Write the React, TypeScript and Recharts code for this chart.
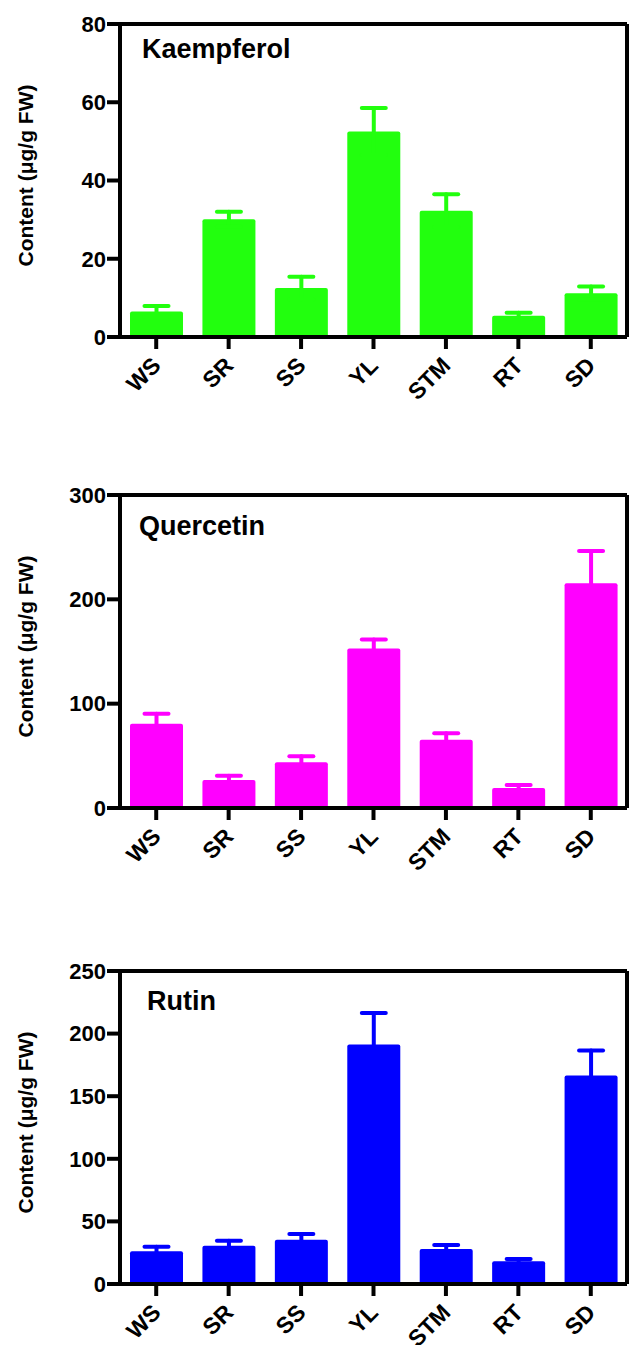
import React from 'react';
import { BarChart, Bar, XAxis, YAxis, ErrorBar, CartesianGrid } from 'recharts';

const tissues = ['WS', 'SR', 'SS', 'YL', 'STM', 'RT', 'SD'];

const kaempferol = [6.5, 30.1, 12.5, 52.5, 32.3, 5.4, 11.2];
const kaempferolErr = [1.4, 1.9, 2.9, 6.0, 4.2, 0.8, 1.7];

const quercetin = [80.8, 26.9, 43.8, 152.9, 65.4, 19.2, 215.4];
const quercetinErr = [9.6, 4.1, 5.8, 8.6, 6.3, 2.9, 31.0];

const rutin = [26.1, 30.6, 35.4, 191.2, 28.0, 18.1, 166.6];
const rutinErr = [3.7, 4.0, 4.6, 25.3, 3.2, 1.9, 20.0];

const kaempferolTicks = [0, 20, 40, 60, 80];
const quercetinTicks = [0, 100, 200, 300];
const rutinTicks = [0, 50, 100, 150, 200, 250];

const FONT = '"Liberation Sans", Arial, Helvetica, sans-serif';
const axisLine = { stroke: '#000', strokeWidth: 4 };

const XTick = ({ x, y, payload }: any) => {
    const ax = x + 6;
    const ay = y + 16;
    return (
        <text
            x={ax}
            y={ay}
            transform={`rotate(-45, ${ax}, ${ay})`}
            textAnchor="end"
            fontSize={23}
            fontWeight="bold"
            fontFamily={FONT}
            fill="#000"
        >
            {payload.value}
        </text>
    );
};

// top and right edges of the plot frame
const topEdge = ({ offset }: any) => [offset.top];
const rightEdge = ({ offset }: any) => [offset.left + offset.width];

interface PanelProps {
    title: string;
    values: number[];
    errors: number[];
    color: string;
    ticks: number[];
    top: number;
    titleLeft: number;
    titleTop: number;
}

function Panel({ title, values, errors, color, ticks, top, titleLeft, titleTop }: PanelProps) {
    const data = tissues.map((t, i) => ({ tissue: t, value: values[i], err: errors[i] }));
    const max = ticks[ticks.length - 1];

    return (
        <div style={{ position: 'absolute', left: 0, top, width: 630, height: 430 }}>
            <BarChart
                width={630}
                height={430}
                data={data}
                margin={{ top: 24, right: 3, bottom: 0, left: 0 }}
                barSize={53}
            >
                <CartesianGrid
                    stroke="#000"
                    strokeWidth={4}
                    horizontalCoordinatesGenerator={topEdge}
                    verticalCoordinatesGenerator={rightEdge}
                />
                <XAxis
                    dataKey="tissue"
                    height={93}
                    axisLine={axisLine}
                    tickLine={axisLine}
                    tickSize={12}
                    tick={<XTick />}
                    interval={0}
                />
                <YAxis
                    width={120}
                    domain={[0, max]}
                    ticks={ticks}
                    interval={0}
                    axisLine={axisLine}
                    tickLine={axisLine}
                    tickSize={13}
                    tickMargin={1}
                    tick={{ fill: '#000', fontSize: 22, fontWeight: 'bold', fontFamily: FONT }}
                    label={{
                        value: 'Content (μg/g FW)',
                        angle: -90,
                        position: 'center',
                        dx: -34,
                        dy: -5,
                        fill: '#000',
                        fontSize: 21,
                        fontWeight: 'bold',
                        fontFamily: FONT,
                    }}
                />
                <Bar dataKey="value" fill={color} radius={2} isAnimationActive={false}>
                    <ErrorBar
                        dataKey="err"
                        direction="y"
                        width={12}
                        strokeWidth={4}
                        stroke={color}
                        strokeLinecap="round"
                        isAnimationActive={false}
                    />
                </Bar>
            </BarChart>
            <div
                style={{
                    position: 'absolute',
                    left: titleLeft,
                    top: titleTop,
                    fontFamily: FONT,
                    fontWeight: 'bold',
                    fontSize: 27,
                    lineHeight: '27px',
                    color: '#000',
                    whiteSpace: 'nowrap',
                }}
            >
                {title}
            </div>
        </div>
    );
}

export default function App() {
    return (
        <div
            style={{
                position: 'absolute',
                left: 0,
                top: 0,
                width: 630,
                height: 1345,
                overflow: 'hidden',
                background: '#fff',
            }}
        >
            <Panel
                title="Kaempferol"
                values={kaempferol}
                errors={kaempferolErr}
                color="#22ff0e"
                ticks={kaempferolTicks}
                top={0}
                titleLeft={142}
                titleTop={36}
            />
            <Panel
                title="Quercetin"
                values={quercetin}
                errors={quercetinErr}
                color="#ff00ff"
                ticks={quercetinTicks}
                top={471}
                titleLeft={139}
                titleTop={42}
            />
            <Panel
                title="Rutin"
                values={rutin}
                errors={rutinErr}
                color="#0000ff"
                ticks={rutinTicks}
                top={947}
                titleLeft={147}
                titleTop={41}
            />
        </div>
    );
}
